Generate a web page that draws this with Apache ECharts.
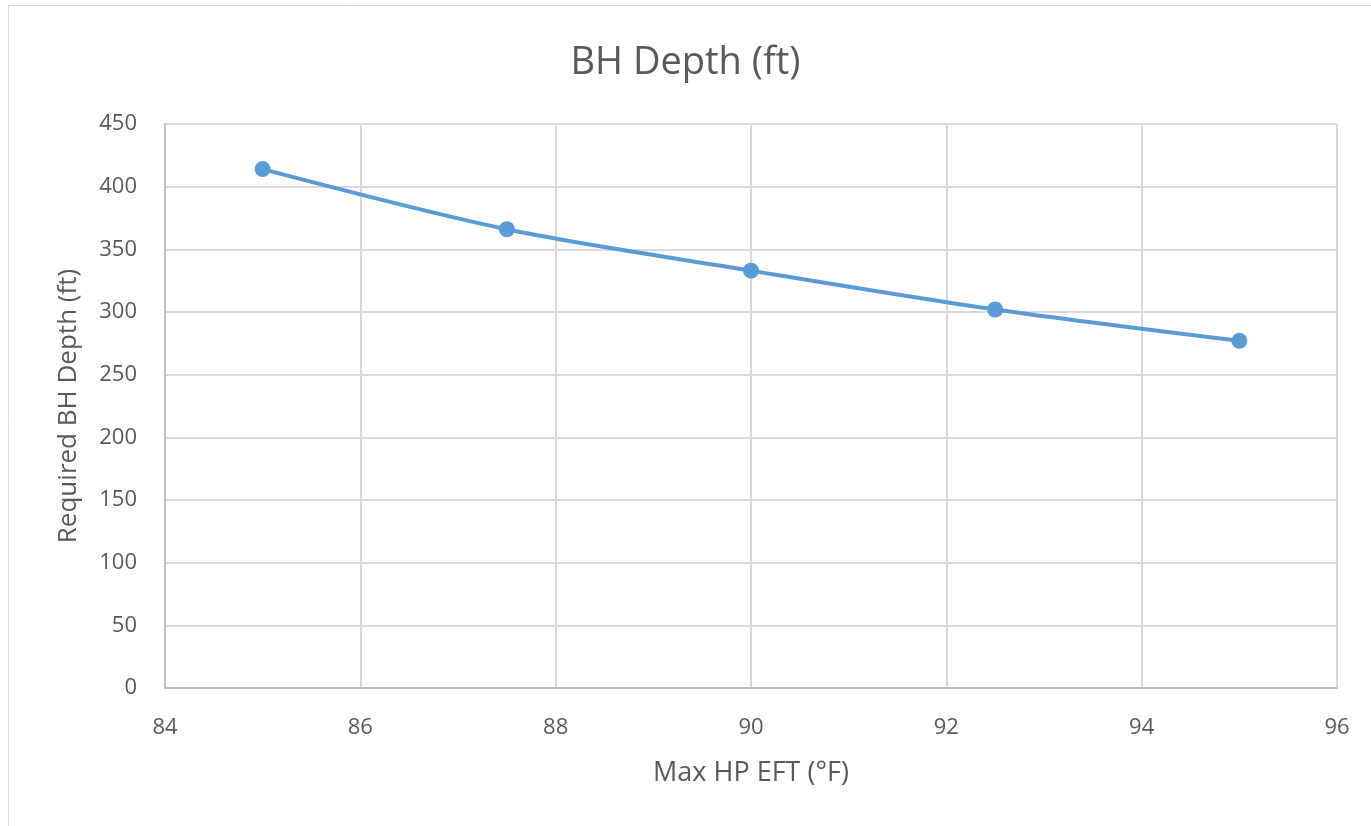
<!DOCTYPE html>
<html><head><meta charset="utf-8">
<script src="https://cdn.jsdelivr.net/npm/echarts@6/dist/echarts.min.js"></script>
<style>html,body{margin:0;padding:0;background:#fff}#c{width:1371px;height:826px}</style>
</head><body><div id="c"></div>
<script>
const titleText = 'BH Depth (ft)';
const xName = 'Max HP EFT (°F)';
const yName = 'Required BH Depth (ft)';
const eft = [85, 87.5, 90, 92.5, 95];
const depth = [414, 366, 333, 302, 277];

const chart = echarts.init(document.getElementById('c'));
const font = '"Open Sans", sans-serif';
chart.setOption({
  animation: false,
  title: { text: titleText, left: 'center', top: 39, textStyle: { fontFamily: font, fontSize: 38, fontWeight: 'normal', color: '#595959' } },
  graphic: [{ type: 'rect', shape: { x: 8.5, y: 5.5, width: 1400, height: 900 }, style: { fill: 'none', stroke: '#D9D9D9', lineWidth: 1 }, silent: true }],
  grid: { left: 165, right: 34, top: 124, bottom: 138 },
  xAxis: {
    type: 'value', min: 84, max: 96, interval: 2,
    name: xName, nameLocation: 'middle', nameGap: 72,
    nameTextStyle: { fontFamily: font, fontSize: 27, color: '#595959' },
    axisLine: { lineStyle: { color: '#BFBFBF', width: 2 } },
    axisTick: { show: false },
    axisLabel: { fontFamily: font, fontSize: 22, color: '#595959', margin: 29 },
    splitLine: { show: true, lineStyle: { color: '#D9D9D9', width: 2 } }
  },
  yAxis: {
    type: 'value', min: 0, max: 450, interval: 50,
    name: yName, nameLocation: 'middle', nameGap: 83, nameRotate: 90,
    nameTextStyle: { fontFamily: font, fontSize: 26, color: '#595959' },
    axisLine: { show: true, lineStyle: { color: '#BFBFBF', width: 2 } },
    axisTick: { show: false },
    axisLabel: { fontFamily: font, fontSize: 22, color: '#595959', margin: 28 },
    splitLine: { show: true, lineStyle: { color: '#D9D9D9', width: 2 } }
  },
  series: [{
    type: 'line', data: eft.map((x, i) => [x, depth[i]]),
    smooth: 0.3, symbol: 'circle', symbolSize: 16,
    lineStyle: { color: '#5B9BD5', width: 4 },
    itemStyle: { color: '#5B9BD5' }
  }]
});
</script></body></html>
